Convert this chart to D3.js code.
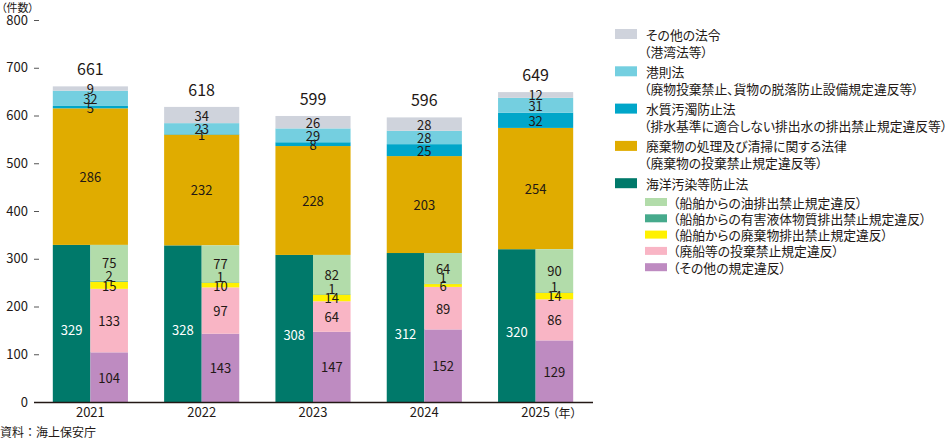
<!DOCTYPE html>
<html>
<head>
<meta charset="utf-8">
<script src="https://cdn.jsdelivr.net/npm/d3@7"></script>
<style>
  body { margin: 0; background: #fff; }
  svg { font-family: "Noto Sans CJK JP", "Noto Sans", sans-serif; }
  .legend text { font-feature-settings: "palt"; }
</style>
</head>
<body>
<div id="chart"></div>
<script>
// data
const years = ["2021", "2022", "2023", "2024", "2025"];
const totals = [661, 618, 599, 596, 649];

// main laws (stacked full width, 海洋汚染 is split into sub items on the right half)
const kaiyo = [329, 328, 308, 312, 320];
const haikibutsu = [286, 232, 228, 203, 254];
const suishitsu = [5, 1, 8, 25, 32];
const kosoku = [32, 23, 29, 28, 31];
const sonotaHorei = [9, 34, 26, 28, 12];

// 海洋汚染等防止法 breakdown
const sonotaKitei = [104, 143, 147, 152, 129];
const haisen = [133, 97, 64, 89, 86];
const haikiHaishutsu = [15, 10, 14, 6, 14];
const yugai = [2, 1, 1, 1, 1];
const abura = [75, 77, 82, 64, 90];

const yTicks = [0, 100, 200, 300, 400, 500, 600, 700, 800];

const width = 948;
const height = 441;

const svg = d3.select("#chart")
    .append("svg")
    .attr("width", width)
    .attr("height", height);

const x = d3.scaleBand()
    .domain(years)
    .range([35, 591])
    .paddingInner(0.325)
    .paddingOuter(0.16);

const y = d3.scaleLinear()
    .domain([0, 800])
    .range([402, 20]);

const colors = {
    kaiyo: "#00796a",
    haikibutsu: "#e0ac00",
    suishitsu: "#00a6c9",
    kosoku: "#74cfe0",
    sonotaHorei: "#cfd3dc",
    abura: "#b2dcaa",
    yugai: "#46aa8c",
    haikiHaishutsu: "#fff100",
    haisen: "#f9b5c5",
    sonotaKitei: "#be8bc1"
};

// build tables
const mainTable = years.map((yr, i) => ({
    year: yr,
    kaiyo: kaiyo[i],
    haikibutsu: haikibutsu[i],
    suishitsu: suishitsu[i],
    kosoku: kosoku[i],
    sonotaHorei: sonotaHorei[i]
}));
const subTable = years.map((yr, i) => ({
    year: yr,
    sonotaKitei: sonotaKitei[i],
    haisen: haisen[i],
    haikiHaishutsu: haikiHaishutsu[i],
    yugai: yugai[i],
    abura: abura[i]
}));

const mainStack = d3.stack()
    .keys(["kaiyo", "haikibutsu", "suishitsu", "kosoku", "sonotaHorei"])(mainTable);
const subStack = d3.stack()
    .keys(["sonotaKitei", "haisen", "haikiHaishutsu", "yugai", "abura"])(subTable);

const half = x.bandwidth() / 2;

// y axis
const yAxis = svg.append("g")
    .attr("transform", "translate(40,0)")
    .call(d3.axisLeft(y).tickValues(yTicks).tickSize(5).tickPadding(6));
yAxis.select(".domain").remove();
yAxis.selectAll(".tick line").attr("stroke", "#555").attr("x1", -1).attr("x2", -6);
yAxis.selectAll(".tick text")
    .attr("font-size", 13)
    .attr("fill", "#231815")
    .attr("x", -12)
    .style("font-family", "'Noto Sans CJK JP', sans-serif");

svg.append("text")
    .attr("x", 1)
    .attr("y", 12)
    .attr("font-size", 11)
    .attr("fill", "#231815")
    .style("font-feature-settings", "'palt'")
    .text("（件数）");

// bars first, labels after so nothing covers a label
const gBars = svg.append("g");
const gLabels = svg.append("g");

mainStack.forEach((series) => {
    const full = series.key !== "kaiyo";
    gBars.selectAll(null)
        .data(series)
        .join("rect")
        .attr("x", (d) => x(d.data.year))
        .attr("width", full ? x.bandwidth() : half)
        .attr("y", (d) => y(d[1]))
        .attr("height", (d) => y(d[0]) - y(d[1]))
        .attr("fill", colors[series.key]);

    gLabels.selectAll(null)
        .data(series)
        .join("text")
        .attr("x", (d) => x(d.data.year) + (full ? half : half / 2))
        .attr("y", (d) => y((d[0] + d[1]) / 2) + (series.key === "kaiyo" ? 6 : 0))
        .attr("text-anchor", "middle")
        .attr("dominant-baseline", "central")
        .attr("font-size", 13)
        .attr("fill", series.key === "kaiyo" ? "#fff" : "#231815")
        .text((d) => d[1] - d[0]);
});

subStack.forEach((series) => {
    gBars.selectAll(null)
        .data(series)
        .join("rect")
        .attr("x", (d) => x(d.data.year) + half)
        .attr("width", half)
        .attr("y", (d) => y(d[1]))
        .attr("height", (d) => y(d[0]) - y(d[1]))
        .attr("fill", colors[series.key]);

    gLabels.selectAll(null)
        .data(series)
        .join("text")
        .attr("x", (d) => x(d.data.year) + half * 1.5)
        .attr("y", (d) => {
            let yy = y((d[0] + d[1]) / 2);
            if (series.key === "yugai") yy -= 6; // lift tiny label above the yellow one
            return yy;
        })
        .attr("text-anchor", "middle")
        .attr("dominant-baseline", "central")
        .attr("font-size", 13)
        .attr("fill", "#231815")
        .text((d) => d[1] - d[0]);
});

// totals
svg.append("g")
    .selectAll("text")
    .data(years)
    .join("text")
    .attr("x", (d) => x(d) + half)
    .attr("y", (d, i) => y(totals[i]) - 11)
    .attr("text-anchor", "middle")
    .attr("font-size", 16)
    .attr("fill", "#231815")
    .text((d, i) => totals[i]);

// x axis
const xAxis = svg.append("g")
    .attr("transform", `translate(0,${y(0)})`)
    .call(d3.axisBottom(x).tickSize(0).tickPadding(6));
xAxis.select(".domain").remove();
xAxis.selectAll(".tick text")
    .attr("font-size", 13)
    .attr("fill", "#231815")
    .style("font-family", "'Noto Sans CJK JP', sans-serif");

svg.append("line")
    .attr("x1", 34)
    .attr("x2", 593)
    .attr("y1", y(0) + 0.5)
    .attr("y2", y(0) + 0.5)
    .attr("stroke", "#231815")
    .attr("stroke-width", 1.5);

svg.append("text")
    .attr("x", x(years[years.length - 1]) + x.bandwidth() / 2 + 17)
    .attr("y", y(0) + 16)
    .attr("font-size", 12)
    .attr("fill", "#231815")
    .style("font-feature-settings", "'palt'")
    .text("（年）");

// source
svg.append("text")
    .attr("x", 0)
    .attr("y", 437)
    .attr("font-size", 12)
    .attr("fill", "#231815")
    .text("資料：海上保安庁");

// legend
const mainLegend = [
    { key: "sonotaHorei", lines: ["その他の法令", "（港湾法等）"] },
    { key: "kosoku", lines: ["港則法", "（廃物投棄禁止、貨物の脱落防止設備規定違反等）"] },
    { key: "suishitsu", lines: ["水質汚濁防止法", "（排水基準に適合しない排出水の排出禁止規定違反等）"] },
    { key: "haikibutsu", lines: ["廃棄物の処理及び清掃に関する法律", "（廃棄物の投棄禁止規定違反等）"] },
    { key: "kaiyo", lines: ["海洋汚染等防止法"] }
];
const subLegend = [
    { key: "abura", label: "（船舶からの油排出禁止規定違反）" },
    { key: "yugai", label: "（船舶からの有害液体物質排出禁止規定違反）" },
    { key: "haikiHaishutsu", label: "（船舶からの廃棄物排出禁止規定違反）" },
    { key: "haisen", label: "（廃船等の投棄禁止規定違反）" },
    { key: "sonotaKitei", label: "（その他の規定違反）" }
];

const legend = svg.append("g").attr("class", "legend");
mainLegend.forEach((item, i) => {
    const cy = 34 + i * 37.3;
    legend.append("rect")
        .attr("x", 615)
        .attr("y", cy - 5)
        .attr("width", 22)
        .attr("height", 10)
        .attr("fill", colors[item.key]);
    item.lines.forEach((ln, j) => {
        legend.append("text")
            .attr("x", j === 0 ? 646 : 644)
            .attr("y", cy + j * 17)
            .attr("dominant-baseline", "central")
            .attr("font-size", 12.8)
            .attr("fill", "#231815")
            .text(ln);
    });
});
subLegend.forEach((item, i) => {
    const cy = 202 + i * 16.3;
    legend.append("rect")
        .attr("x", 645)
        .attr("y", cy - 4)
        .attr("width", 22)
        .attr("height", 8)
        .attr("fill", colors[item.key]);
    legend.append("text")
        .attr("x", 673)
        .attr("y", cy)
        .attr("dominant-baseline", "central")
        .attr("font-size", 12.8)
        .attr("fill", "#231815")
        .text(item.label);
});
</script>
</body>
</html>
